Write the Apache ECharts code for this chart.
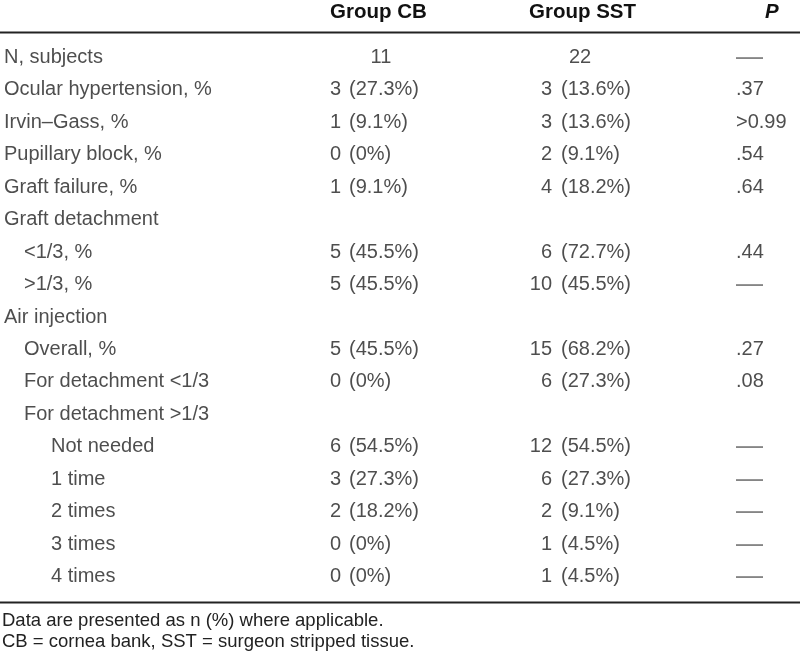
<!DOCTYPE html>
<html>
<head>
<meta charset="utf-8">
<script src="https://cdn.jsdelivr.net/npm/echarts@6/dist/echarts.min.js"></script>
<style>html,body{margin:0;padding:0;background:#fff}#c{width:800px;height:670px}</style>
</head>
<body>
<div id="c"></div>
<script>
// ---- data ----
var headers = ["Group CB", "Group SST", "P"];
var labels = ["N, subjects", "Ocular hypertension, %", "Irvin\u2013Gass, %", "Pupillary block, %", "Graft failure, %", "Graft detachment", "<1/3, %", ">1/3, %", "Air injection", "Overall, %", "For detachment <1/3", "For detachment >1/3", "Not needed", "1 time", "2 times", "3 times", "4 times"];
var indent = [0, 0, 0, 0, 0, 0, 1, 1, 0, 1, 1, 1, 2, 2, 2, 2, 2];
var cbCount = [11, 3, 1, 0, 1, null, 5, 5, null, 5, 0, null, 6, 3, 2, 0, 0];
var cbPct = [null, "27.3", "9.1", "0", "9.1", null, "45.5", "45.5", null, "45.5", "0", null, "54.5", "27.3", "18.2", "0", "0"];
var sstCount = [22, 3, 3, 2, 4, null, 6, 10, null, 15, 6, null, 12, 6, 2, 1, 1];
var sstPct = [null, "13.6", "13.6", "9.1", "18.2", null, "72.7", "45.5", null, "68.2", "27.3", null, "54.5", "27.3", "9.1", "4.5", "4.5"];
var pValues = ["\u2014", ".37", ">0.99", ".54", ".64", "", ".44", "\u2014", "", ".27", ".08", "", "\u2014", "\u2014", "\u2014", "\u2014", "\u2014"];
var footnotes = ["Data are presented as n (%) where applicable.", "CB = cornea bank, SST = surgeon stripped tissue."];

// ---- build ----
var FONT = "'Liberation Sans', Arial, sans-serif";
var TXT = '#222';
var rowIdx = labels.map(function (_, i) { return i; });
var indentX = [4, 24, 51];

function textSeries(name, points, align) {
  return {
    name: name, type: 'scatter', symbolSize: 0, silent: true,
    data: points,
    label: {
      show: true, position: [0, 0], align: align, verticalAlign: 'middle',
      fontFamily: FONT, fontSize: 20, color: TXT,
      formatter: function (p) { return p.data[2]; },
      rich: { dash: { fontFamily: FONT, fontSize: 27, color: '#666' } }
    }
  };
}

var labelPts = [], cbNumPts = [], cbParPts = [], cbCenter = [], sstNumPts = [], sstParPts = [], sstCenter = [], pPts = [];
rowIdx.forEach(function (i) {
  labelPts.push([indentX[indent[i]], labels[i], labels[i]]);
  if (cbCount[i] !== null) {
    if (cbPct[i] === null) cbCenter.push([381, labels[i], String(cbCount[i])]);
    else { cbNumPts.push([341, labels[i], String(cbCount[i])]); cbParPts.push([349, labels[i], '(' + cbPct[i] + '%)']); }
  }
  if (sstCount[i] !== null) {
    if (sstPct[i] === null) sstCenter.push([580, labels[i], String(sstCount[i])]);
    else { sstNumPts.push([552, labels[i], String(sstCount[i])]); sstParPts.push([561, labels[i], '(' + sstPct[i] + '%)']); }
  }
  if (pValues[i] !== '') {
    pPts.push([736, labels[i], pValues[i] === '\u2014' ? '{dash|\u2014}' : pValues[i]]);
  }
});

var chart = echarts.init(document.getElementById('c'), null, { renderer: 'canvas' });
chart.setOption({
  animation: false,
  backgroundColor: '#fff',
  grid: { left: 0, right: 0, top: 41, bottom: 77 },
  xAxis: { type: 'value', min: 0, max: 800, show: false },
  yAxis: { type: 'category', data: labels, inverse: true, show: false },
  series: [
    textSeries('labels', labelPts, 'left'),
    textSeries('cbNum', cbNumPts, 'right'),
    textSeries('cbPar', cbParPts, 'left'),
    textSeries('cbN', cbCenter, 'center'),
    textSeries('sstNum', sstNumPts, 'right'),
    textSeries('sstPar', sstParPts, 'left'),
    textSeries('sstN', sstCenter, 'center'),
    textSeries('p', pPts, 'left')
  ],
  graphic: [
    { type: 'text', left: 330, top: 2, style: { text: headers[0], font: 'bold 20.5px ' + FONT, fill: '#111' } },
    { type: 'text', left: 529, top: 2, style: { text: headers[1], font: 'bold 20.5px ' + FONT, fill: '#111' } },
    { type: 'text', left: 765, top: 2, style: { text: headers[2], font: 'italic bold 20.5px ' + FONT, fill: '#111' } },
    { type: 'line', shape: { x1: 0, y1: 32.5, x2: 800, y2: 32.5 }, style: { stroke: '#222', lineWidth: 2 } },
    { type: 'line', shape: { x1: 0, y1: 602.5, x2: 800, y2: 602.5 }, style: { stroke: '#222', lineWidth: 2 } },
    { type: 'text', left: 2, top: 611, style: { text: footnotes[0], font: '18.5px ' + FONT, fill: TXT } },
    { type: 'text', left: 2, top: 632, style: { text: footnotes[1], font: '18.5px ' + FONT, fill: TXT } }
  ]
});
</script>
</body>
</html>
